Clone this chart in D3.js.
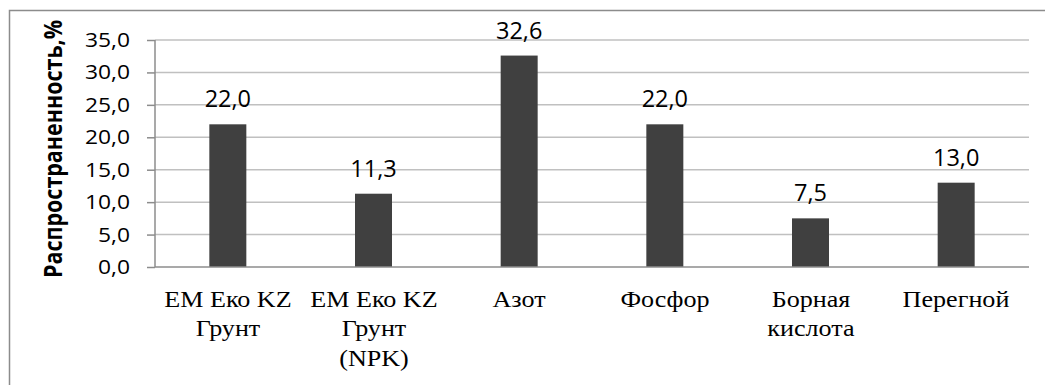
<!DOCTYPE html>
<html>
<head>
<meta charset="utf-8">
<script src="https://cdn.jsdelivr.net/npm/d3@7"></script>
<style>
  html, body { margin: 0; padding: 0; background: #fff; }
  #wrap { position: relative; width: 1045px; height: 385px; overflow: hidden; }
  svg { display: block; position: absolute; left: 0; top: 0; }
  .cat {
    position: absolute;
    font-family: "Liberation Serif", "Times New Roman", serif;
    font-size: 22.5px;
    line-height: 29.5px;
    text-align: center;
    white-space: pre;
    color: #000;
    transform: translateX(-50%) scaleX(1.16);
  }
</style>
</head>
<body>
<div id="wrap">
<svg id="chart"></svg>
</div>
<script>
const categories = ["ЕМ Еко KZ\nГрунт", "ЕМ Еко KZ\nГрунт\n(NPK)", "Азот", "Фосфор", "Борная\nкислота", "Перегной"];
const values = [22.0, 11.3, 32.6, 22.0, 7.5, 13.0];
const yTicks = [0, 5, 10, 15, 20, 25, 30, 35];
const yTitle = "Распространенность,%";

const WIDTH = 1045;
const HEIGHT = 385;
const LEFT = 155;
const RIGHT = 1029;
const TOP = 40;
const BOTTOM = 267;
const SX = 1.17; // text in the picture is stretched sideways

const comma = v => d3.format(".1f")(v).replace(".", ",");

const svg = d3.select("#chart").attr("width", WIDTH).attr("height", HEIGHT);

const x = d3.scaleBand()
    .domain(categories)
    .range([LEFT, RIGHT])
    .paddingInner(0.746)
    .paddingOuter(0.373);

const y = d3.scaleLinear().domain([0, 35]).range([BOTTOM, TOP]);

// outer frame (cut off at right and bottom)
svg.append("rect")
    .attr("x", 9.5).attr("y", 10.5)
    .attr("width", 1100).attr("height", 400)
    .attr("fill", "none")
    .attr("stroke", "#8c8c8c")
    .attr("stroke-width", 1.5);

// grid
svg.append("g")
    .selectAll("line")
    .data(yTicks.filter(d => d > 0))
    .join("line")
    .attr("x1", LEFT).attr("x2", RIGHT)
    .attr("y1", d => y(d)).attr("y2", d => y(d))
    .attr("stroke", "#c0c0c0")
    .attr("stroke-width", 1.5);

// y axis
const yAxis = svg.append("g")
    .attr("transform", `translate(${LEFT},0)`)
    .call(d3.axisLeft(y).tickValues(yTicks).tickSize(8).tickFormat(() => ""));
yAxis.select(".domain").remove();
yAxis.selectAll(".tick line").attr("stroke", "#8c8c8c").attr("stroke-width", 1.5);
svg.append("line")
    .attr("x1", LEFT).attr("x2", LEFT)
    .attr("y1", TOP).attr("y2", BOTTOM)
    .attr("stroke", "#8c8c8c").attr("stroke-width", 1.5);

// bars
svg.append("g")
    .selectAll("rect")
    .data(values)
    .join("rect")
    .attr("x", (d, i) => x(categories[i]))
    .attr("width", x.bandwidth())
    .attr("y", d => y(d))
    .attr("height", d => BOTTOM - y(d))
    .attr("fill", "#404040");

// x axis line
svg.append("line")
    .attr("x1", LEFT).attr("x2", RIGHT)
    .attr("y1", BOTTOM).attr("y2", BOTTOM)
    .attr("stroke", "#8c8c8c").attr("stroke-width", 1.5);

// tick labels, stretched
svg.append("g")
    .selectAll("text")
    .data(yTicks)
    .join("text")
    .attr("transform", d => `translate(130,${y(d) + 7}) scale(${SX},1)`)
    .attr("text-anchor", "end")
    .attr("font-family", "Open Sans")
    .attr("font-size", 19.5)
    .attr("fill", "#000")
    .text(d => comma(d));

// value labels
svg.append("g")
    .selectAll("text")
    .data(values)
    .join("text")
    .attr("x", (d, i) => x(categories[i]) + x.bandwidth() / 2)
    .attr("y", d => y(d) - 17)
    .attr("text-anchor", "middle")
    .attr("font-family", "Open Sans")
    .attr("font-size", 23.5)
    .attr("fill", "#000")
    .text(d => comma(d));

// y title
svg.append("text")
    .attr("transform", `translate(62,149) scale(${SX},1) rotate(-90)`)
    .attr("text-anchor", "middle")
    .attr("font-family", "Open Sans")
    .attr("font-weight", "bold")
    .attr("font-size", 21.5)
    .attr("fill", "#000")
    .text(yTitle);

// category labels as html text, placed with the band scale
d3.select("#wrap")
    .selectAll("div.cat")
    .data(categories)
    .join("div")
    .attr("class", "cat")
    .style("left", d => `${x(d) + x.bandwidth() / 2}px`)
    .style("top", "284.5px")
    .text(d => d);
</script>
</body>
</html>
